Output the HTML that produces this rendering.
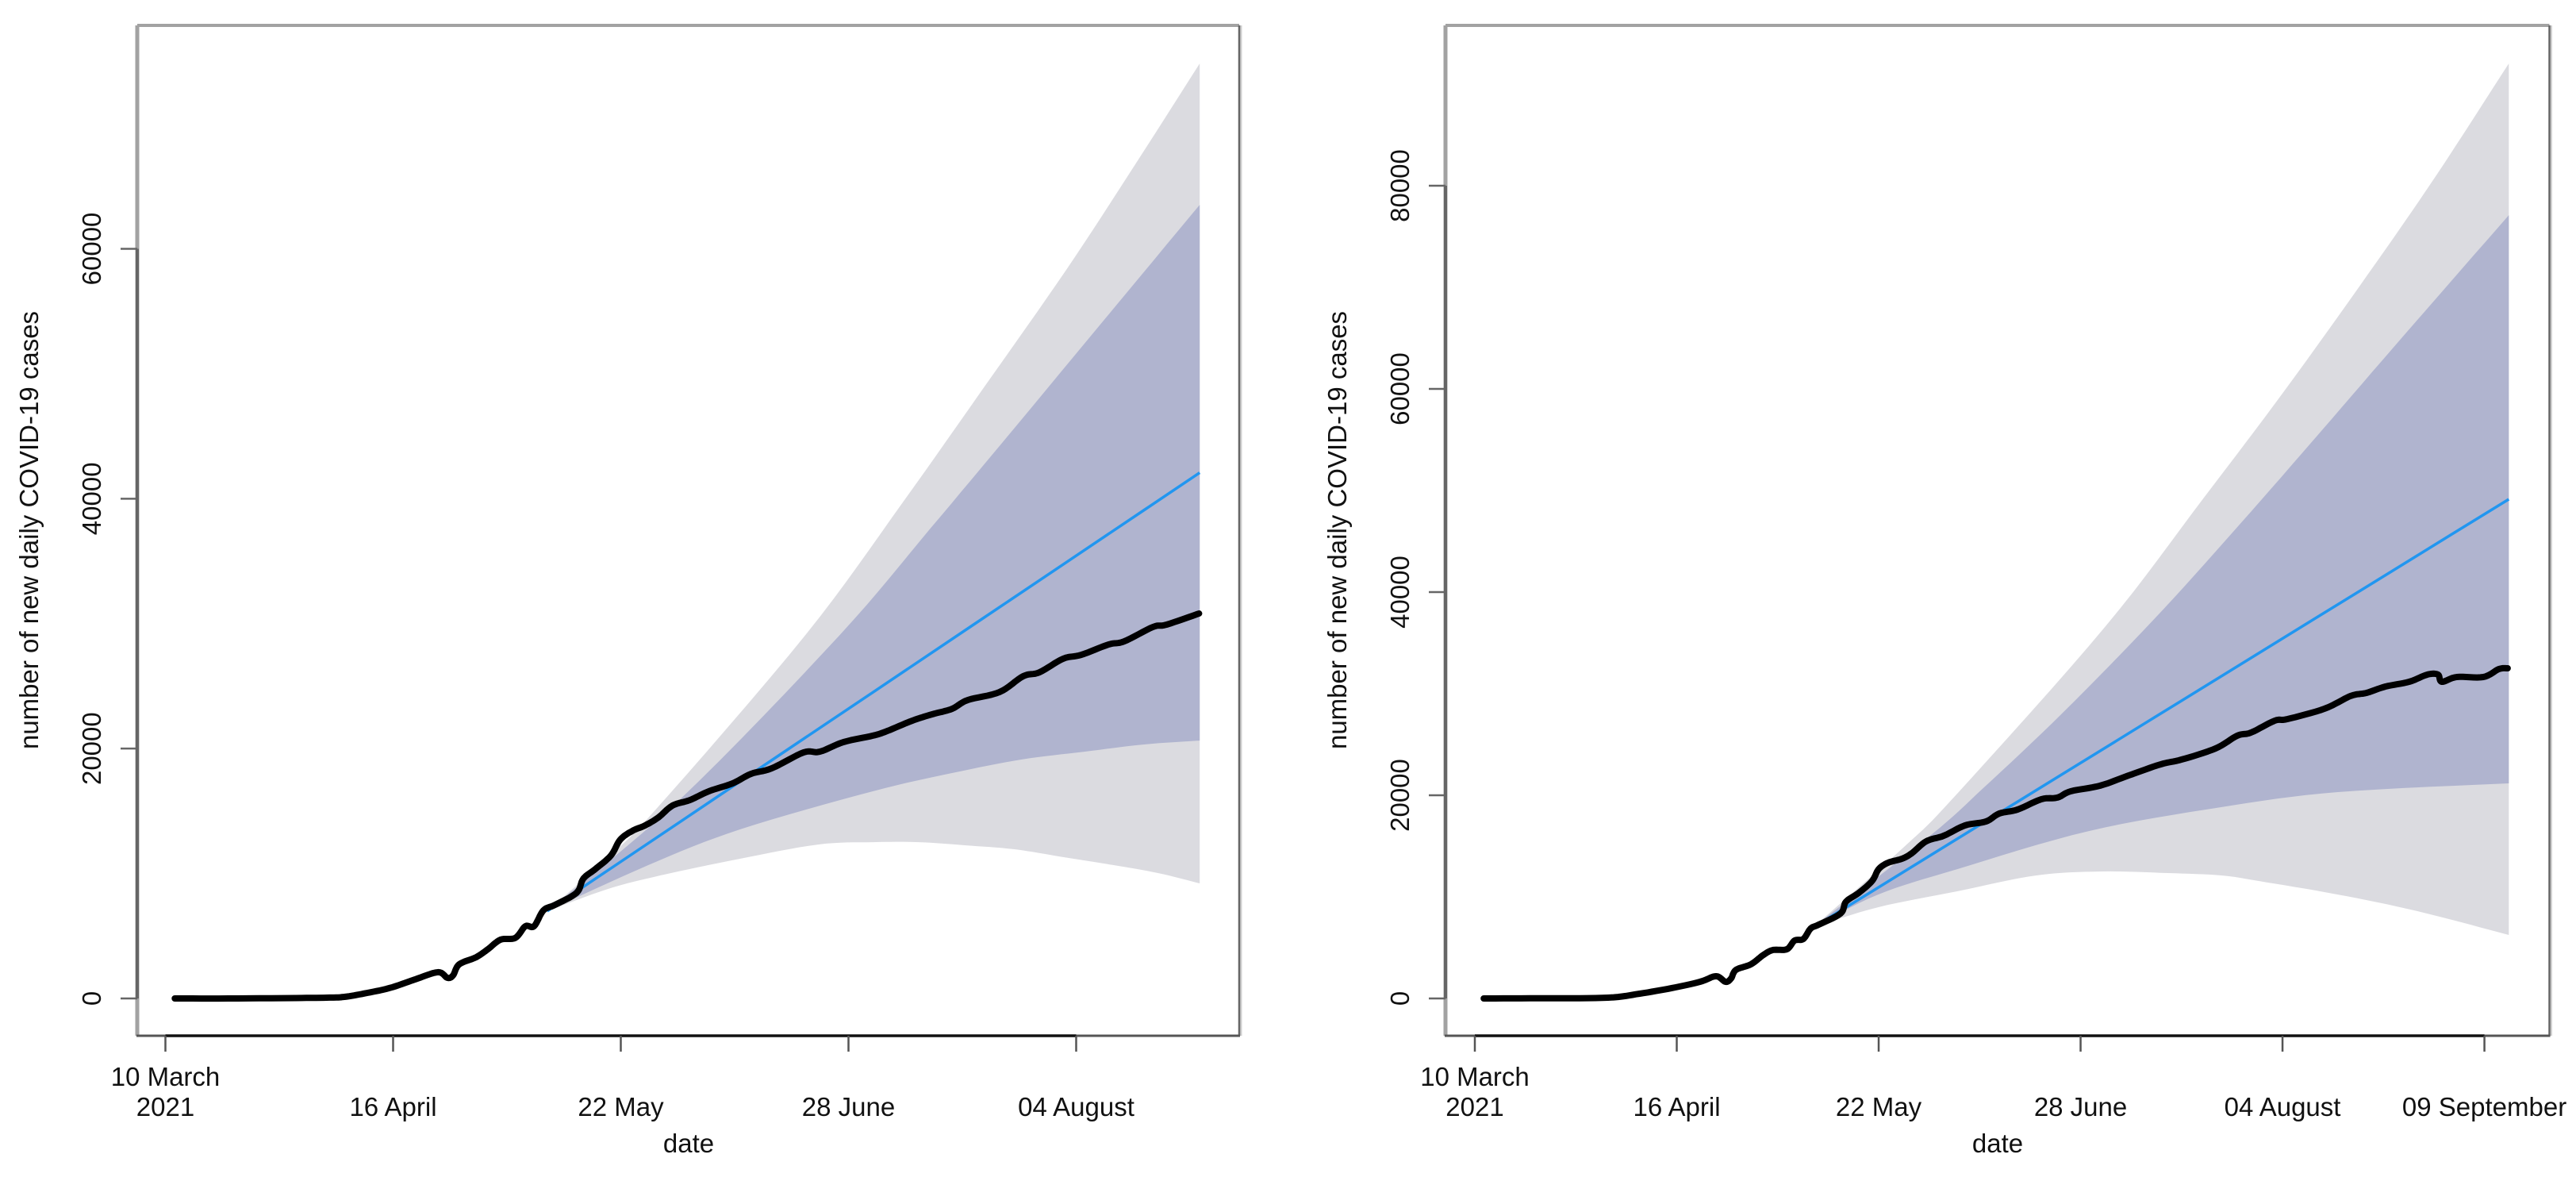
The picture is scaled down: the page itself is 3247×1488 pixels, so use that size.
<!DOCTYPE html>
<html lang="en">
<head>
<meta charset="utf-8">
<title>New daily COVID-19 cases forecast</title>
<style>
html,body{margin:0;padding:0;background:#fff;}
svg{display:block;}
text{font-family:"Liberation Sans",Arial,sans-serif;font-size:33px;fill:#111;}
</style>
</head>
<body>
<svg id="chart" xmlns="http://www.w3.org/2000/svg" width="3247" height="1488" viewBox="0 0 3247 1488">
  <rect x="0" y="0" width="3247" height="1488" fill="#fff"/>
  <g id="panel-a">
    <text transform="translate(48,668) rotate(-90)" text-anchor="middle">number of new daily COVID-19 cases</text>
    <text x="868" y="1452" text-anchor="middle">date</text>
  </g>
  <g id="panel-b">
    <text transform="translate(1697,668) rotate(-90)" text-anchor="middle">number of new daily COVID-19 cases</text>
    <text x="2518" y="1452" text-anchor="middle">date</text>
  </g>
</svg>
<script>
// ---- shared axis ticks ----
const xTickDaysA = [0, 36.5, 73, 109.5, 146];
const xTickLabelsA = ["10 March|2021", "16 April", "22 May", "28 June", "04 August"];
const yTicksA = [0, 20000, 40000, 60000];

const xTickDaysB = [0, 36.5, 73, 109.5, 146, 182.5];
const xTickLabelsB = ["10 March|2021", "16 April", "22 May", "28 June", "04 August", "09 September"];
const yTicksB = [0, 20000, 40000, 60000, 80000];

// ---- left panel: observed / simulated cases ----
const casesDaysA = [1.5,11.6,25.4,28.7,31.9,35.9,40,43.7,45.2,46.1,47.1,49.8,51.7,53.7,56.1,57.7,59.1,60.6,62.5,65.9,67,68.9,71.4,72.9,74.8,76.9,79,81.3,84.1,87.1,90.9,93.9,97.2,102.3,104.9,108.7,113.4,115.7,119.7,122.9,126.1,128.6,133.7,137.5,140.1,143.9,146.8,151.2,153.7,158.3,160.5,165.7];
const casesValuesA = [0,0,60,130,400,830,1520,2100,1650,1840,2730,3300,3940,4700,4850,5780,5780,7050,7500,8450,9590,10350,11430,12700,13400,13850,14480,15440,15880,16580,17210,17980,18420,19690,19750,20520,21030,21400,22230,22740,23180,23880,24520,25790,26100,27190,27500,28330,28580,29730,29920,30810];

const meanDaysA = [61.2,165.8];
const meanValuesA = [6990,42080];

const outerUpperDaysA = [61.2,70.1,78.6,102.6,118.2,131.3,144.4,155.4,165.8];
const outerUpperValuesA = [6990,10930,15120,29090,39700,48970,58310,66700,74830];
const innerUpperDaysA = [61.2,82.5,108.1,122.5,135.6,148.9,165.8];
const innerUpperValuesA = [6990,15940,29090,37540,45350,53360,63520];
const innerLowerDaysA = [61.2,77.4,92.1,113.4,126.1,137.2,147.3,156.9,165.8];
const innerLowerValuesA = [6990,10670,13530,16580,18040,19120,19750,20330,20640];
const outerLowerDaysA = [61.2,71,79.4,92.1,104.6,113.4,120.8,128.1,136.1,144,152,159.1,165.8];
const outerLowerValuesA = [6990,8770,9850,11180,12320,12510,12510,12260,11940,11310,10670,10040,9210];

// ---- right panel ----
const casesDaysB = [1.6,13.1,24.1,29.8,35.6,40.7,43.6,45.3,46.3,47.2,49.9,52.2,53.9,56.4,57.8,59.4,60.7,62.2,66.1,67.1,69.4,71.8,73,74.7,77.2,79,81.6,84.8,88.6,92.4,94.8,98.1,102.4,105.3,107.7,113,118.2,124,127.8,133.9,137.8,140.3,144.6,146.9,153.6,158.3,161.2,164.6,168.9,172.2,174.1,174.8,177.5,182.3,185.1,186.7];
const casesValuesB = [0,20,80,470,1020,1640,2190,1640,1950,2810,3360,4300,4770,4840,5700,5860,6880,7270,8360,9530,10390,11560,12730,13360,13750,14300,15470,16020,17030,17420,18200,18590,19610,19770,20390,20940,21950,23050,23520,24610,25860,26170,27340,27500,28520,29770,30080,30700,31170,31880,31880,31170,31640,31640,32420,32500];

const meanDaysB = [61.2,186.9];
const meanValuesB = [6990,49140];

const outerUpperDaysB = [61.2,77.6,87.2,113.9,131.8,146.6,161.3,173.7,186.9];
const outerUpperValuesB = [7030,14920,20160,36560,49300,60000,71170,80940,92030];
const innerUpperDaysB = [61.2,82.3,91.9,106.3,122.8,136.7,151.4,166.4,186.9];
const innerUpperValuesB = [7030,16020,20700,28130,37340,45700,54840,64300,77100];
const innerLowerDaysB = [61.2,72.9,87.2,111,134.9,156,186.9];
const innerLowerValuesB = [7030,10230,12730,16480,18830,20310,21170];
const outerLowerDaysB = [61.2,72.9,87.2,101.5,113.4,125.3,134.9,141.7,156,170.4,186.9];
const outerLowerValuesB = [7030,8980,10550,12110,12500,12340,12110,11560,10230,8590,6250];

const NS = 'http://www.w3.org/2000/svg';

// Catmull-Rom sampling through the knots so that curves are smooth in pixel space
function pointsOf(days, values, xAxis, yAxis) {
  const px = days.map(xAxis);
  const py = values.map(yAxis);
  const out = [];
  const n = px.length;
  for (let i = 0; i < n - 1; i++) {
    const a = Math.max(i - 1, 0), b = i, c = i + 1, d = Math.min(i + 2, n - 1);
    const steps = 8;
    for (let s = 0; s < steps; s++) {
      const t = s / steps, t2 = t * t, t3 = t2 * t;
      const x = 0.5 * (2 * px[b] + (px[c] - px[a]) * t + (2 * px[a] - 5 * px[b] + 4 * px[c] - px[d]) * t2 + (3 * px[b] - px[a] - 3 * px[c] + px[d]) * t3);
      const y = 0.5 * (2 * py[b] + (py[c] - py[a]) * t + (2 * py[a] - 5 * py[b] + 4 * py[c] - py[d]) * t2 + (3 * py[b] - py[a] - 3 * py[c] + py[d]) * t3);
      out.push(x.toFixed(1) + ',' + y.toFixed(1));
    }
  }
  out.push(px[n - 1].toFixed(1) + ',' + py[n - 1].toFixed(1));
  return out;
}

function make(parent, tag, attrs) {
  const node = document.createElementNS(NS, tag);
  for (const k in attrs) node.setAttribute(k, attrs[k]);
  parent.appendChild(node);
  return node;
}

function drawPanel(p) {
  const g = document.getElementById(p.id);
  const xAxis = function (d) { return p.x0 + d * p.xScale; };
  const yAxis = function (v) { return p.y0 - v * p.yScale; };

  // bands
  const outerPts = pointsOf(p.ouD, p.ouV, xAxis, yAxis).concat(pointsOf(p.olD, p.olV, xAxis, yAxis).reverse());
  const outer = make(g, 'polygon', { points: outerPts.join(' '), fill: '#dbdbe0' });
  
  

  const innerPts = pointsOf(p.iuD, p.iuV, xAxis, yAxis).concat(pointsOf(p.ilD, p.ilV, xAxis, yAxis).reverse());
  const inner = make(g, 'polygon', { points: innerPts.join(' '), fill: '#b0b4cf' });
  
  

  // mean forecast
  const mean = make(g, 'polyline', { points: pointsOf(p.mD, p.mV, xAxis, yAxis).join(' '), fill: 'none', stroke: '#2196f0', 'stroke-width': 3.5 });
  
  

  // cases
  const cases = make(g, 'polyline', { points: pointsOf(p.cD, p.cV, xAxis, yAxis).join(' '), fill: 'none', stroke: '#000', 'stroke-width': 8, 'stroke-linejoin': 'round', 'stroke-linecap': 'round' });
  
  

  // frame
  const top = make(g, 'line', { x1: p.left, y1: p.top, x2: p.right, y2: p.top, stroke: '#a2a2a2', 'stroke-width': 4 });
  
  

  const rightLight = make(g, 'line', { x1: p.right + 2, y1: p.top, x2: p.right + 2, y2: p.bottom, stroke: '#cfcfcf', 'stroke-width': 3 });
  
  

  const right = make(g, 'line', { x1: p.right, y1: p.top, x2: p.right, y2: p.bottom, stroke: '#666', 'stroke-width': 2.5 });
  
  

  const left = make(g, 'line', { x1: p.left, y1: p.top, x2: p.left, y2: p.bottom, stroke: '#a2a2a2', 'stroke-width': 5 });
  
  

  const bottom = make(g, 'line', { x1: p.left - 1, y1: p.bottom, x2: p.right + 1, y2: p.bottom, stroke: '#555', 'stroke-width': 3 });
  
  

  // y axis
  const yAxisLine = make(g, 'line', { x1: p.left, y1: yAxis(p.yTicks[0]), x2: p.left, y2: yAxis(p.yTicks[p.yTicks.length - 1]), stroke: '#666', 'stroke-width': 4 });
  
  

  p.yTicks.forEach(function (v) {
    const tick = make(g, 'line', { x1: p.left - 21, y1: yAxis(v), x2: p.left, y2: yAxis(v), stroke: '#666', 'stroke-width': 2.5 });
    
    
    const lx = p.left - 46;
    const ly = yAxis(v);
    const label = make(g, 'text', { transform: 'translate(' + lx + ',' + ly + ') rotate(-90)', 'text-anchor': 'middle' });
    label.textContent = String(v);
    
    
  });

  // x axis
  const xAxisLine = make(g, 'line', { x1: xAxis(p.xTickDays[0]), y1: p.bottom, x2: xAxis(p.xTickDays[p.xTickDays.length - 1]), y2: p.bottom, stroke: '#111', 'stroke-width': 3.5 });
  
  

  p.xTickDays.forEach(function (d, i) {
    const tick = make(g, 'line', { x1: xAxis(d), y1: p.bottom, x2: xAxis(d), y2: p.bottom + 20, stroke: '#555', 'stroke-width': 2.5 });
    
    
    const parts = p.xLabels[i].split('|');
    if (parts.length === 2) {
      const head = make(g, 'text', { x: xAxis(d), y: 1368, 'text-anchor': 'middle' });
      head.textContent = parts[0];
      
      
      const year = make(g, 'text', { x: xAxis(d), y: 1406, 'text-anchor': 'middle' });
      year.textContent = parts[1];
      
      
    } else {
      const label = make(g, 'text', { x: xAxis(d), y: 1406, 'text-anchor': 'middle' });
      label.textContent = parts[0];
      
      
    }
  });
}

drawPanel({
  id: 'panel-a', x0: 208.5, xScale: 7.863, y0: 1258, yScale: 0.015742,
  left: 173, right: 1562, top: 32, bottom: 1305,
  xTickDays: xTickDaysA, xLabels: xTickLabelsA, yTicks: yTicksA,
  cD: casesDaysA, cV: casesValuesA, mD: meanDaysA, mV: meanValuesA,
  ouD: outerUpperDaysA, ouV: outerUpperValuesA, iuD: innerUpperDaysA, iuV: innerUpperValuesA,
  ilD: innerLowerDaysA, ilV: innerLowerValuesA, olD: outerLowerDaysA, olV: outerLowerValuesA
});
drawPanel({
  id: 'panel-b', x0: 1859, xScale: 6.973, y0: 1258, yScale: 0.0128,
  left: 1822, right: 3213.5, top: 32, bottom: 1305,
  xTickDays: xTickDaysB, xLabels: xTickLabelsB, yTicks: yTicksB,
  cD: casesDaysB, cV: casesValuesB, mD: meanDaysB, mV: meanValuesB,
  ouD: outerUpperDaysB, ouV: outerUpperValuesB, iuD: innerUpperDaysB, iuV: innerUpperValuesB,
  ilD: innerLowerDaysB, ilV: innerLowerValuesB, olD: outerLowerDaysB, olV: outerLowerValuesB
});
</script>
</body>
</html>
